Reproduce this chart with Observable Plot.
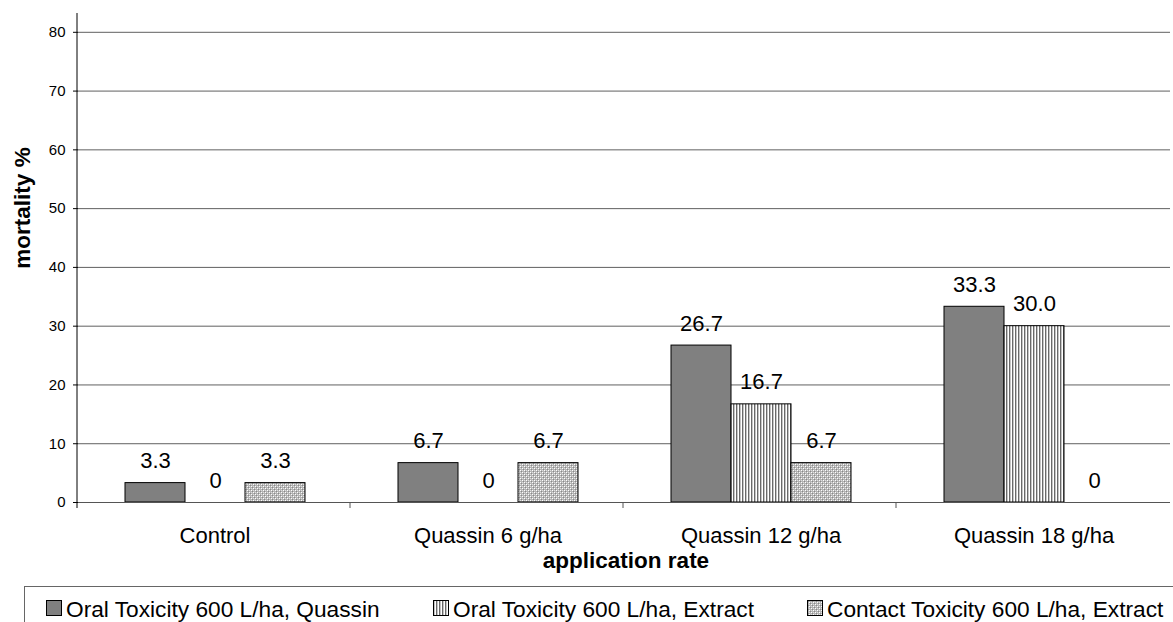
<!DOCTYPE html>
<html><head><meta charset="utf-8">
<script src="https://cdn.jsdelivr.net/npm/d3@7"></script>
<script src="https://cdn.jsdelivr.net/npm/@observablehq/plot@0.6"></script>
<style>
body{margin:0;background:#fff;font-family:"Liberation Sans",Arial,sans-serif;}
#legend{position:absolute;left:24px;top:586px;width:1160px;height:40px;border-top:1px solid #666;border-left:1px solid #666;font-size:22.7px;color:#000;}
.item{position:absolute;top:0;height:36px;white-space:nowrap;}
.item svg{position:absolute;left:0;top:13px;}
.item span{position:absolute;left:20px;top:9px;line-height:26px;}
</style></head><body>
<div id="chart"></div>
<div id="legend"></div>
<script>
const categories = ["Control", "Quassin 6 g/ha", "Quassin 12 g/ha", "Quassin 18 g/ha"];
const series = ["Oral Toxicity 600 L/ha, Quassin", "Oral Toxicity 600 L/ha, Extract", "Contact Toxicity 600 L/ha, Extract"];
const oralQuassin = [3.3, 6.7, 26.7, 33.3];
const oralExtract = [0, 0, 16.7, 30.0];
const contactExtract = [3.3, 6.7, 6.7, 0];
const yTicks = [0, 10, 20, 30, 40, 50, 60, 70, 80];
const yMax = 83.2;
const xTitle = "application rate";
const yTitle = "mortality %";

const seriesValues = [oralQuassin, oralExtract, contactExtract];
const fills = ["#808080", "url(#vstripe)", "url(#dots)"];
const rows = [];
series.forEach((s, si) => categories.forEach((c, ci) => rows.push({category: c, series: s, value: seriesValues[si][ci]})));
const fmt = d => d.value === 0 ? "0" : d.value.toFixed(1);
const font = '"Liberation Sans", Arial, sans-serif';

const chart = Plot.plot({
  width: 1173, height: 580,
  marginLeft: 77, marginRight: 2, marginTop: 13, marginBottom: 78,
  style: {fontFamily: font, fontSize: "15px", color: "#000", background: "#fff"},
  fx: {domain: categories, padding: 0, label: null},
  x: {domain: series, paddingInner: 0, paddingOuter: 0.746, axis: null},
  y: {domain: [0, yMax], label: null},
  marks: [
    Plot.gridY(yTicks.filter(t => t > 0), {stroke: "#606060", strokeOpacity: 1}),
    Plot.axisY(yTicks, {tickSize: 5, tickPadding: 8, fontSize: 15, label: null}),
    Plot.axisFx({anchor: "bottom", tickSize: 0, tickPadding: 25, fontSize: 22, label: null}),
    ...series.map((s, si) => Plot.barY(rows.filter(d => d.series === s), {
      fx: "category", x: "series", y: "value", fill: fills[si], stroke: "#000", strokeWidth: 1
    })),
    Plot.ruleY([0], {stroke: "#555"}),
    Plot.text(rows, {fx: "category", x: "series", y: "value", text: fmt, lineAnchor: "bottom", dy: -15, fontSize: 22, fill: "#000"})
  ]
});

const svg = d3.select(chart);
svg.insert("defs", ":first-child").html(`
  <pattern id="vstripe" width="3" height="3" patternUnits="userSpaceOnUse">
    <rect width="3" height="3" fill="#fff"/><rect x="0" width="1" height="3" fill="#686868"/><rect x="1" width="1" height="3" fill="#c4c4c4"/>
  </pattern>
  <pattern id="dots" width="4" height="4" patternUnits="userSpaceOnUse">
    <rect width="4" height="4" fill="#b4b4b4"/>
    <rect x="0" y="0" width="1" height="1" fill="#fff"/><rect x="2" y="2" width="1" height="1" fill="#fff"/>
    <rect x="1" y="1" width="1" height="1" fill="#8a8a8a"/><rect x="3" y="3" width="1" height="1" fill="#8a8a8a"/>
    <rect x="2" y="0" width="1" height="1" fill="#e0e0e0"/><rect x="0" y="2" width="1" height="1" fill="#e0e0e0"/>
  </pattern>`);

const fx = chart.scale("fx"), y = chart.scale("y");
const y0 = y.apply(0), yTop = y.apply(yMax);
const x0 = fx.range[0];
const g = svg.append("g").attr("stroke", "#000");
g.append("line").attr("x1", x0).attr("x2", x0).attr("y1", yTop).attr("y2", y0 + 6);
categories.forEach((c, i) => {
  if (i === 0) return;
  const bx = x0 + i * fx.step;
  g.append("line").attr("x1", bx).attr("x2", bx).attr("y1", y0).attr("y2", y0 + 6).attr("stroke", "#555");
});
const xEnd = fx.range[1];
svg.append("text").attr("x", (x0 + xEnd) / 2 + 2).attr("y", 568).attr("text-anchor", "middle")
  .attr("font-family", font).attr("font-size", 22.5).attr("font-weight", "bold").text(xTitle);
svg.append("text").attr("transform", "translate(30,208) rotate(-90)").attr("text-anchor", "middle")
  .attr("font-family", font).attr("font-size", 22.5).attr("font-weight", "bold").text(yTitle);

document.getElementById("chart").appendChild(chart);

const legend = d3.select("#legend");
const lefts = [21, 408, 782];
series.forEach((s, si) => {
  const it = legend.append("div").attr("class", "item").style("left", lefts[si] + "px");
  const sw = it.append("svg").attr("width", 16).attr("height", 16);
  sw.append("rect").attr("x", 0.5).attr("y", 0.5).attr("width", 15).attr("height", 15).attr("fill", fills[si]).attr("stroke", "#000");
  it.append("span").text(s);
});
</script>
</body></html>
